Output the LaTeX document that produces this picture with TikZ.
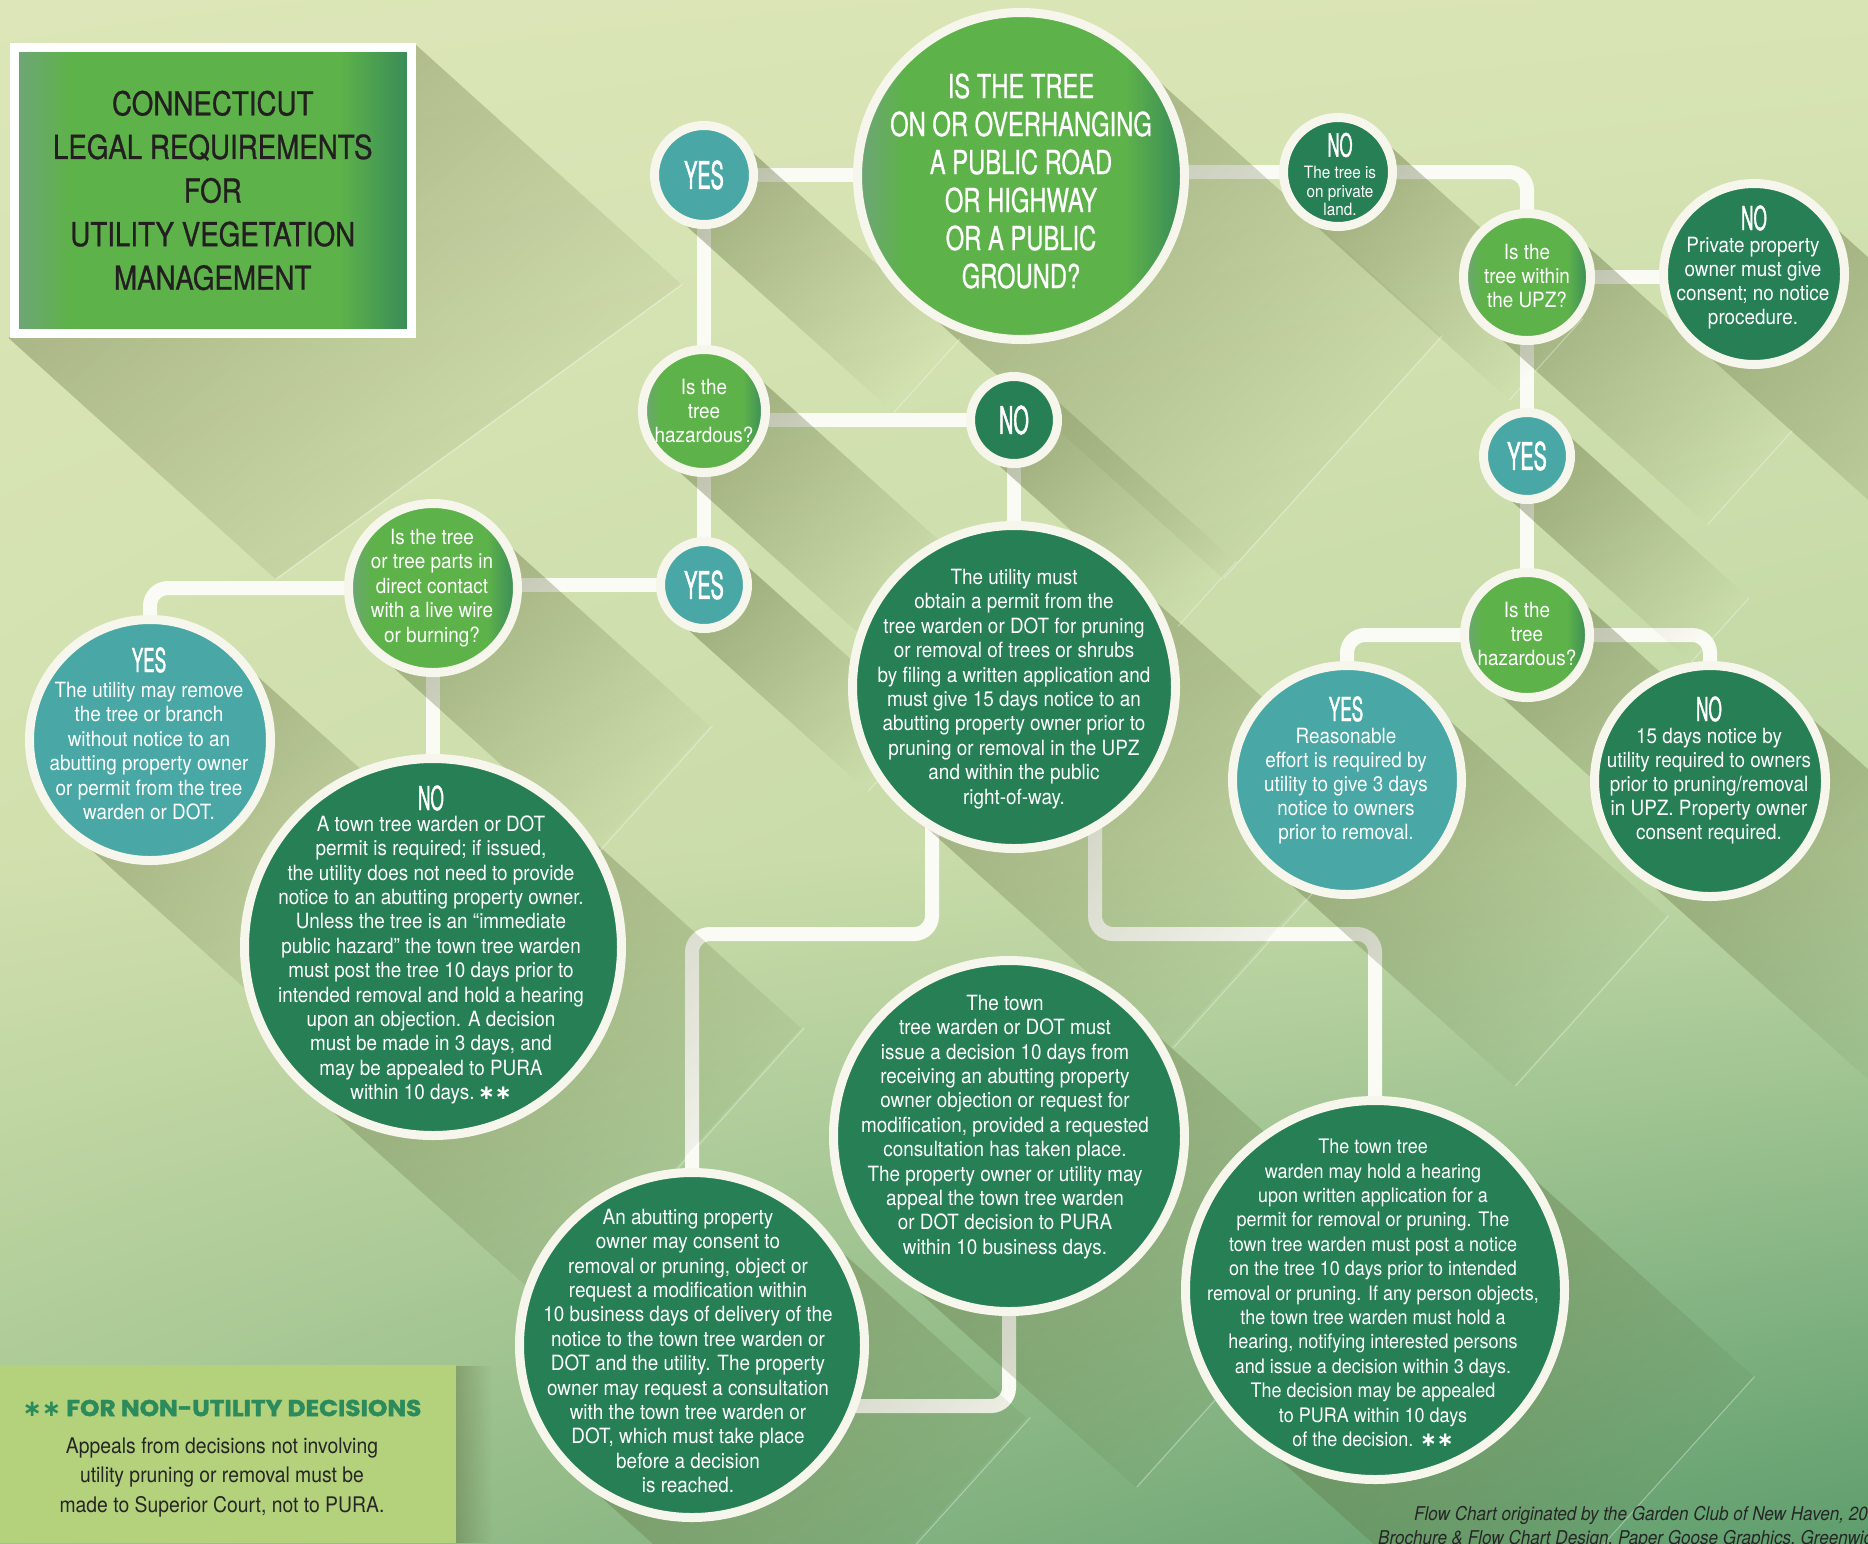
\documentclass[tikz,border=0pt]{standalone}
\usepackage{fontspec}
\setmainfont{TeX Gyre Heros}
\newfontfamily\bodyf{TeX Gyre Heros}[FakeStretch=0.9]
\newfontfamily\capsf{TeX Gyre Heros}[FakeStretch=0.72,FakeBold=0.6]
\newfontfamily\titlef{TeX Gyre Heros}[FakeStretch=0.84,FakeBold=0.8]
\newfontfamily\ynf{TeX Gyre Heros}[FakeStretch=0.52,FakeBold=1.2]
\newfontfamily\heavyf{Poppins}[FakeStretch=1.08,FakeBold=1.6]
\newfontfamily\symf{DejaVu Sans}
\usetikzlibrary{calc,fadings,shadings}

\definecolor{yescol}{HTML}{49A8A5}
\definecolor{nocol}{HTML}{277F55}
\definecolor{qL}{HTML}{6FA57A}
\definecolor{qM}{HTML}{5EB24A}
\definecolor{qR}{HTML}{378A58}
\definecolor{rim}{HTML}{F7F6EC}
\definecolor{connc}{HTML}{FBFBF5}
\definecolor{shcol}{HTML}{52602F}
\definecolor{notecol}{HTML}{B4D17B}
\definecolor{notehead}{HTML}{2B8B5C}
\definecolor{darktext}{HTML}{262626}
\definecolor{titletext}{HTML}{231F20}
\definecolor{bgA}{HTML}{DCE6B8}
\definecolor{bgB}{HTML}{D9E4B4}
\definecolor{bgC}{HTML}{D2E0AE}
\definecolor{bgD}{HTML}{BFD7A4}
\definecolor{bgE}{HTML}{A2C590}
\definecolor{bgF}{HTML}{5E9D6D}

\pgfdeclarehorizontalshading{qshade}{100bp}{color(0bp)=(qL); color(25bp)=(qL); color(32bp)=(qM); color(66bp)=(qM); color(75bp)=(qR); color(100bp)=(qR)}
\tikzfading[name=shfade, left color=transparent!0, middle color=transparent!25, right color=transparent!100]

\pgfdeclarelayer{bg}
\pgfdeclarelayer{conn}
\pgfdeclarelayer{shad}
\pgfsetlayers{bg,conn,shad,main}

\tikzset{
  circ/.style={circle, draw=rim, line width=9pt, inner sep=0pt, outer sep=0pt},
  yescirc/.style={circ, fill=yescol},
  nocirc/.style={circ, fill=nocol},
  qcirc/.style={circ, shade, shading=qshade},
  conn/.style={draw=connc, line width=14pt, rounded corners=18pt},
  ctext/.style={text=white, align=center, inner sep=0pt, font=\bodyf\fontsize{21}{24.4}\selectfont},
  yn/.style={text=white, inner sep=0pt, font=\ynf\fontsize{38}{38}\selectfont},
  ynh/.style={text=white, inner sep=0pt, font=\ynf\fontsize{33}{33}\selectfont},
  lshadow/.style={fill=shcol, path fading=shfade, fading angle=-42},
  shedge/.style={draw=white, opacity=0.35, line width=1pt},
  credit/.style={inner sep=0pt, text=darktext, font=\bodyf\itshape\fontsize{19}{22}\selectfont},
}

\begin{document}
\begin{tikzpicture}[x=1pt,y=-1pt]
\useasboundingbox (0,0) rectangle (1868,1543);

% ---------- nodes ----------
\node[rectangle, draw=white, line width=9pt, shade, shading=qshade, minimum width=397.5pt, minimum height=286pt, inner sep=0pt, align=center, text=titletext, font=\titlef\fontsize{33}{43.6}\selectfont] (title) at (212.75,190.5)
  {CONNECTICUT\\LEGAL REQUIREMENTS\\FOR\\UTILITY VEGETATION\\MANAGEMENT};

\node[qcirc, minimum size=327pt] (main) at (1021,176) {};
\node[yescirc, minimum size=99pt] (yesA) at (704,175) {};
\node[qcirc, minimum size=123pt] (hazA) at (704,411) {};
\node[nocirc, minimum size=87pt] (noA) at (1014,420) {};
\node[yescirc, minimum size=87pt] (yesB) at (704,585) {};
\node[qcirc, minimum size=169pt] (parts) at (433,588) {};
\node[yescirc, minimum size=241pt] (yesC) at (150,740) {};
\node[nocirc, minimum size=377pt] (noB) at (433,947) {};
\node[nocirc, minimum size=323pt] (permit) at (1014,687) {};
\node[nocirc, minimum size=109pt] (noC) at (1338,172) {};
\node[qcirc, minimum size=127pt] (upz) at (1527,277) {};
\node[nocirc, minimum size=181pt] (noD) at (1754,274) {};
\node[yescirc, minimum size=87pt] (yesR) at (1527,456) {};
\node[qcirc, minimum size=125pt] (hazR) at (1527,635) {};
\node[yescirc, minimum size=229pt] (yesD) at (1347,780) {};
\node[nocirc, minimum size=231pt] (noE) at (1710,781) {};
\node[nocirc, minimum size=345pt] (abut) at (692,1345) {};
\node[nocirc, minimum size=351pt] (dotm) at (1009,1136) {};
\node[nocirc, minimum size=379pt] (hold) at (1375,1290) {};

\coordinate (jl) at (932,934);
\coordinate (jr) at (1095,934);
\coordinate (jb) at (1009,1406);

% ---------- texts ----------
\node[ctext, font=\capsf\fontsize{33}{38}\selectfont] (mainT) at (1021,181)
  {IS THE TREE\\ON OR OVERHANGING\\A PUBLIC ROAD\\OR HIGHWAY\\OR A PUBLIC\\GROUND?};
\node[yn] (yesAT) at (704,175) {YES};
\node[ctext] (hazAT) at (704,411) {Is the\\tree\\hazardous?};
\node[yn] (noAT) at (1014,420) {NO};
\node[yn] (yesBT) at (704,585) {YES};
\node[ctext] (partsT) at (432,588) {Is the tree\\or tree parts in\\direct contact\\with a live wire\\or burning?};
\node[ynh] (yesCH) at (149,660) {YES};
\node[ctext] (yesCT) at (149,751) {The utility may remove\\the tree or branch\\without notice to an\\abutting property owner\\or permit from the tree\\warden or DOT.};
\node[ynh] (noBH) at (431,798) {NO};
\node[ctext] (noBT) at (431,960) {A town tree warden or DOT\\permit is required; if issued,\\the utility does not need to provide\\notice to an abutting property owner.\\Unless the tree is an “immediate\\public hazard” the town tree warden\\must post the tree 10 days prior to\\intended removal and hold a hearing\\upon an objection. A decision\\must be made in 3 days, and\\may be appealed to PURA\\within 10 days.\,{\symf\bfseries\fontsize{20}{20}\selectfont ∗∗}};
\node[ctext] (permitT) at (1014,689) {The utility must\\obtain a permit from the\\tree warden or DOT for pruning\\or removal of trees or shrubs\\by filing a written application and\\must give 15 days notice to an\\abutting property owner prior to\\pruning or removal in the UPZ\\and within the public\\right-of-way.};
\node[ynh, font=\ynf\fontsize{32}{32}\selectfont] (noCH) at (1340,145) {NO};
\node[ctext, font=\bodyf\fontsize{17}{18.3}\selectfont] (noCT) at (1340,191) {The tree is\\on private\\land.};
\node[ctext] (upzT) at (1527,276) {Is the\\tree within\\the UPZ?};
\node[ynh] (noDH) at (1754,218) {NO};
\node[ctext, font=\bodyf\fontsize{21}{24}\selectfont] (noDT) at (1753,283) {Private property\\owner must give\\consent; no notice\\procedure.};
\node[yn] (yesRT) at (1527,456) {YES};
\node[ctext] (hazRT) at (1527,634) {Is the\\tree\\hazardous?};
\node[ynh] (yesDH) at (1346,709) {YES};
\node[ctext, font=\bodyf\fontsize{21}{24}\selectfont] (yesDT) at (1346,786) {Reasonable\\effort is required by\\utility to give 3 days\\notice to owners\\prior to removal.};
\node[ynh] (noEH) at (1709,709) {NO};
\node[ctext, font=\bodyf\fontsize{21}{24}\selectfont] (noET) at (1709,786) {15 days notice by\\utility required to owners\\prior to pruning/removal\\in UPZ. Property owner\\consent required.};
\node[ctext] (abutT) at (688,1351) {An abutting property\\owner may consent to\\removal or pruning, object or\\request a modification within\\10 business days of delivery of the\\notice to the town tree warden or\\DOT and the utility. The property\\owner may request a consultation\\with the town tree warden or\\DOT, which must take place\\before a decision\\is reached.};
\node[ctext] (dotmT) at (1005,1127) {The town\\tree warden or DOT must\\issue a decision 10 days from\\receiving an abutting property\\owner objection or request for\\modification, provided a requested\\consultation has taken place.\\The property owner or utility may\\appeal the town tree warden\\or DOT decision to PURA\\within 10 business days.};
\node[ctext, font=\bodyf\fontsize{20}{24.4}\selectfont] (holdT) at (1373,1293) {The town tree\\warden may hold a hearing\\upon written application for a\\permit for removal or pruning. The\\town tree warden must post a notice\\on the tree 10 days prior to intended\\removal or pruning. If any person objects,\\the town tree warden must hold a\\hearing, notifying interested persons\\and issue a decision within 3 days.\\The decision may be appealed\\to PURA within 10 days\\of the decision. {\symf\bfseries\fontsize{20}{20}\selectfont ∗∗}};

% ---------- footnote box ----------
\node[rectangle, fill=notecol, minimum width=456pt, minimum height=178pt, inner sep=0pt, anchor=south west] (notebox) at (0,1543) {};
\node[inner sep=0pt, text=notehead, font=\heavyf\bfseries\fontsize{23}{24}\selectfont] (nhead) at (222,1408)
  {{\symf\bfseries ∗∗} FOR NON-UTILITY DECISIONS};
\node[inner sep=0pt, align=center, text=darktext, font=\bodyf\fontsize{21.5}{29.5}\selectfont] (nbody) at (222,1477)
  {Appeals from decisions not involving\\utility pruning or removal must be\\made to Superior Court, not to PURA.};

% ---------- credits ----------
\node[credit, anchor=east] (cred1) at (1868,1515) {Flow Chart originated by the Garden Club of New Haven, 20};
\node[credit, anchor=west] (cred2) at (1378,1539) {Brochure \& Flow Chart Design, Paper Goose Graphics, Greenwich};

% ---------- connectors ----------
\begin{pgfonlayer}{conn}
\draw[conn] (yesA.center) -- (yesA.center -| main.center);
\draw[conn] (yesA.center) -- (hazA.center);
\draw[conn] (noA.center -| hazA.center) -- (noA.center);
\draw[conn] (hazA.center) -- (yesB.center);
\draw[conn] (noA.center) -- (permit.center);
\draw[conn] (yesB.center) -- (yesB.center -| parts.center);
\draw[conn] (parts.center) -- (parts.center -| yesC.center) -- (yesC.center);
\draw[conn] (parts.center) -- (noB.center);
\draw[conn] (noC.center) -- (noC.center -| main.center);
\draw[conn] (noC.center) -- (noC.center -| upz.center) -- (upz.center);
\draw[conn] (upz.center) -- (upz.center -| noD.center);
\draw[conn] (upz.center) -- (yesR.center);
\draw[conn] (yesR.center) -- (hazR.center);
\draw[conn] (hazR.center) -- (hazR.center -| yesD.center) -- (yesD.center);
\draw[conn] (hazR.center) -- (hazR.center -| noE.center) -- (noE.center);
\draw[conn] (permit.center -| jl) -- (jl) -- (jl -| abut.center) -- (abut.center);
\draw[conn] (permit.center -| jr) -- (jr) -- (jr -| hold.center) -- (hold.center);
\draw[conn] (jb -| abut.center) -- (jb) -- (dotm.center);
\end{pgfonlayer}

% ---------- long shadows ----------
\begin{pgfonlayer}{shad}
\begin{scope}[transparency group, opacity=0.4]
\fill[lshadow] (title.north east) -- ++(267,241) -- ($(title.south west)+(267,241)$) -- (title.south west) -- cycle;
\foreach \n/\L in {main/420, yesA/300, hazA/300, noA/260, yesB/260, parts/300, yesC/300, noB/330, permit/360, noC/280, upz/300, noD/340, yesR/260, hazR/300, yesD/330, noE/330, abut/300, dotm/330, hold/340}{
  \fill[lshadow] (\n.48) -- ++(\L*0.743,\L*0.669) -- ($(\n.-132)+(\L*0.743,\L*0.669)$) -- (\n.-132) -- cycle;
}
\end{scope}
\draw[shedge] ($(title.north east)+(267,241)$) -- ($(title.south west)+(267,241)$);
\foreach \n/\L in {main/420, yesA/300, hazA/300, noA/260, yesB/260, parts/300, yesC/300, noB/330, permit/360, noC/280, upz/300, noD/340, yesR/260, hazR/300, yesD/330, noE/330, abut/300, dotm/330, hold/340}{
  \draw[shedge] ($(\n.48)+(\L*0.743,\L*0.669)$) -- ($(\n.-132)+(\L*0.743,\L*0.669)$);
}
\fill[shcol, opacity=0.35, path fading=shfade] (456,1366) rectangle (492,1543);
\end{pgfonlayer}

% ---------- background ----------
\begin{pgfonlayer}{bg}
\shade[upper left=bgA, upper right=bgB, lower left=bgC, lower right=bgD] (0,0) rectangle (1868,851);
\shade[upper left=bgC, upper right=bgD, lower left=bgE, lower right=bgF] (0,850) rectangle (1868,1543);
\end{pgfonlayer}
\end{tikzpicture}
\end{document}
